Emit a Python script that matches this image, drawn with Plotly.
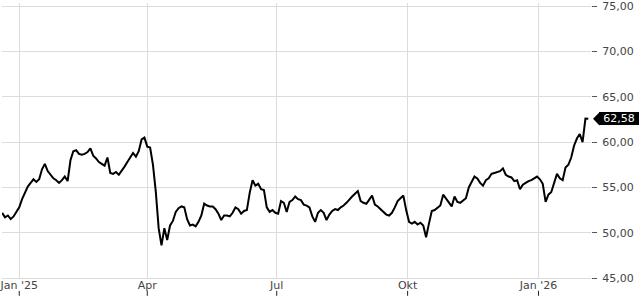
import pandas as pd
import plotly.graph_objects as go

# ---- data (one value every 2 calendar days) ----
start_date = "2024-12-20"
step = "2D"
prices = [
    52.2, 51.7, 51.9, 51.5, 51.8, 52.3, 52.8, 53.7, 54.5, 55.1,
    55.5, 55.9, 55.6, 55.9, 57.0, 57.6, 56.8, 56.4, 56.0, 55.8,
    55.5, 55.8, 56.2, 55.7, 58.0, 59.0, 59.1, 58.7, 58.6, 58.7,
    58.9, 59.3, 58.5, 58.2, 57.8, 57.6, 57.4, 58.3, 56.6, 56.5,
    56.7, 56.4, 56.8, 57.3, 57.8, 58.3, 58.8, 58.4, 59.0, 60.3,
    60.5, 59.5, 59.4, 57.5, 54.5, 50.5, 48.6, 50.5, 49.2, 50.8,
    51.3, 52.3, 52.7, 52.9, 52.8, 51.5, 50.8, 50.9, 50.7, 51.2,
    51.9, 53.2, 53.0, 52.9, 52.9, 52.6, 52.1, 51.4, 51.9, 51.9,
    51.8, 52.2, 52.8, 52.6, 52.1, 52.4, 52.5, 54.4, 55.8, 55.2,
    55.4, 54.8, 54.7, 52.8, 52.3, 52.5, 52.2, 52.1, 53.5, 53.3,
    52.3, 53.4, 53.6, 54.0, 53.7, 53.6, 53.1, 53.0, 52.8, 51.8,
    51.2, 52.2, 52.5, 52.2, 51.4, 52.0, 52.4, 52.6, 52.5, 52.8,
    53.0, 53.3, 53.7, 54.0, 54.3, 54.6, 53.5, 53.3, 53.2, 53.6,
    54.1, 53.1, 52.9, 52.6, 52.3, 52.0, 51.9, 52.2, 52.8, 53.5,
    53.8, 54.1, 52.5, 51.2, 51.0, 51.2, 50.9, 51.1, 50.8, 49.5,
    51.0, 52.4, 52.5, 52.7, 53.0, 54.2, 53.8, 53.4, 52.9, 54.0,
    53.4, 53.3, 53.6, 53.8, 55.0, 55.6, 56.2, 56.0, 55.5, 55.2,
    55.8, 56.0, 56.5, 56.6, 56.7, 56.8, 57.1, 56.4, 56.2, 56.1,
    55.7, 55.8, 54.8, 55.3, 55.5, 55.7, 55.8, 56.0, 56.2, 55.9,
    55.4, 53.4, 54.2, 54.5, 55.6, 56.5, 56.0, 55.8, 57.2, 57.5,
    58.3, 59.6, 60.4, 60.9, 60.0, 62.6, 62.58,
]
tick_dates = ["2025-01-01", "2025-04-01", "2025-07-01", "2025-10-01", "2026-01-01"]
tick_labels = ["Jan '25", "Apr", "Jul", "Okt", "Jan '26"]
last_label = "62,58"

dates = pd.date_range(start_date, periods=len(prices), freq=step)

FONT = "DejaVu Sans"
GRID = "#dcdcdc"
TXT = "#444444"

fig = go.Figure()
fig.add_trace(go.Scatter(
    x=dates, y=prices, mode="lines",
    line=dict(color="black", width=2),
    hoverinfo="skip", showlegend=False,
))

PLOT_W = 591.0
PLOT_H = 278.0

# small x tick marks drawn just below the labels
shapes = []
for d in tick_dates:
    shapes.append(dict(
        type="line", xref="x", yref="paper", x0=d, x1=d,
        y0=-(291 - PLOT_H) / PLOT_H, y1=-(296 - PLOT_H) / PLOT_H,
        line=dict(color="#222222", width=1),
    ))

# last value arrow (triangle pointing left)
last = prices[-1]
tip = 593.0 / PLOT_W
base = 599.5 / PLOT_W
half = 6.7 / 9.157
shapes.append(dict(
    type="path", xref="paper", yref="y",
    path=f"M {tip} {last} L {base} {last + half} L {base} {last - half} Z",
    fillcolor="black", line=dict(width=0),
))

fig.update_layout(
    width=640, height=300,
    margin=dict(l=0, r=640 - PLOT_W, t=0, b=300 - PLOT_H),
    paper_bgcolor="white", plot_bgcolor="white",
    separators=",.",
    font=dict(family=FONT, size=11, color=TXT),
    shapes=shapes,
    xaxis=dict(
        type="date",
        range=["2024-12-19 21:00", "2026-02-06 22:00"],
        tickmode="array", tickvals=tick_dates, ticktext=tick_labels,
        showgrid=True, gridcolor=GRID, gridwidth=1,
        ticks="", showline=True, linecolor=GRID, linewidth=1,
        zeroline=False, ticklabeloverflow="allow", ticklabelstandoff=-3,
        tickfont=dict(family=FONT, size=11, color=TXT),
    ),
    yaxis=dict(
        side="right", range=[45, 75.36],
        tick0=45, dtick=5, tickformat=".2f",
        showgrid=True, gridcolor=GRID, gridwidth=1,
        ticks="outside", ticklen=5, tickcolor="#555555", tickwidth=1,
        zeroline=False, showline=False,
        ticklabeloverflow="allow", ticklabelstandoff=3,
        tickfont=dict(family=FONT, size=11, color=TXT),
    ),
    annotations=[dict(
        text=last_label, xref="paper", yref="y",
        x=base, y=last, xanchor="left", yanchor="middle",
        showarrow=False, bgcolor="black",
        font=dict(family=FONT, size=11, color="white"),
        width=40, height=13, borderpad=0, borderwidth=0, align="center",
    )],
)

fig.write_html("out.html")
